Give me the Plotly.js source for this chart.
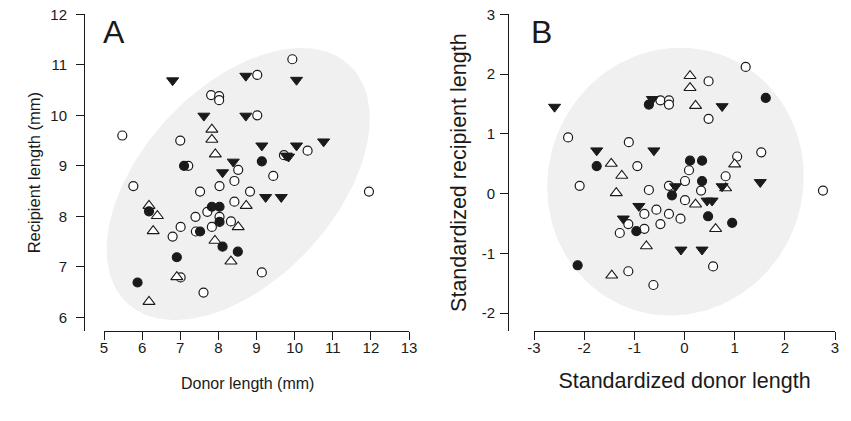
<!DOCTYPE html>
<html><head><meta charset="utf-8">
<script src="https://cdn.plot.ly/plotly-3.0.1.min.js"></script>
<style>html,body{margin:0;padding:0;background:#fff}#chart{width:851px;height:421px}</style>
</head><body><div id="chart"></div>
<script>
// ---------- Panel A: raw lengths (mm) ----------
const aOpenX = [7.81,8.02,8.02,5.48,7.00,9.94,9.02,9.02,10.34,9.72,7.21,8.52,5.77,7.52,8.03,8.42,8.42,7.71,8.03,8.33,7.40,7.83,7.01,7.41,6.80,7.01,7.61,9.44,8.83,11.95,9.14];
const aOpenY = [10.40,10.38,10.30,9.60,9.50,11.11,10.80,10.00,9.30,9.21,9.00,8.92,8.60,8.49,8.60,8.70,8.29,8.09,7.99,7.90,7.99,7.79,7.79,7.70,7.60,6.79,6.49,8.80,8.49,8.49,6.89];
const aFillX = [7.10,9.14,7.83,8.03,8.03,7.52,6.18,8.11,8.51,6.91,5.88];
const aFillY = [9.00,9.09,8.19,8.19,7.89,7.70,8.10,7.40,7.30,7.19,6.69];
const aDownX = [6.80,7.62,8.39,8.11,8.72,10.05,8.72,9.14,10.05,10.76,9.84,9.78,9.24,9.65];
const aDownY = [10.69,9.99,9.08,8.87,10.78,10.70,9.99,9.40,9.40,9.48,9.18,9.20,8.38,8.38];
const aUpX = [7.83,7.83,7.92,6.18,6.40,6.29,7.91,8.33,6.91,6.18,8.73,8.52];
const aUpY = [9.72,9.52,9.23,8.21,8.01,7.71,7.52,7.11,6.80,6.31,8.21,7.79];

// ---------- Panel B: standardized ----------
const bOpenX = [-2.32,-1.11,-0.94,-0.48,-0.31,-0.31,0.48,0.48,1.22,1.05,1.53,0.09,0.82,0.01,-0.31,0.33,2.76,0.01,-0.56,-0.31,-0.48,-0.08,0.57,-0.62,-2.09,-0.71,-0.80,-1.12,-1.29,-0.80,-1.12];
const bOpenY = [0.94,0.86,0.46,1.56,1.56,1.49,1.88,1.25,2.12,0.62,0.69,0.39,0.29,0.21,0.13,0.05,0.05,-0.11,-0.27,-0.34,-0.51,-0.42,-1.22,-1.53,0.13,0.06,-0.34,-0.51,-0.66,-0.59,-1.30];
const bFillX = [-1.75,-0.71,1.62,0.11,0.35,0.35,-0.25,0.47,0.95,-2.13,-0.96];
const bFillY = [0.46,1.49,1.60,0.55,0.55,0.21,-0.03,-0.38,-0.49,-1.20,-0.63];
const bDownX = [-2.59,-1.75,-0.61,-0.64,0.75,-0.18,0.75,1.51,0.45,0.55,-0.07,0.35,-0.91,-1.22];
const bDownY = [1.45,0.72,0.72,1.58,1.46,0.12,0.12,0.19,-0.12,-0.12,-0.94,-0.94,-0.21,-0.42];
const bUpX = [-1.46,0.11,0.11,0.22,1.00,0.82,0.22,0.62,-1.25,-1.36,-0.76,-1.45];
const bUpY = [0.50,1.97,1.77,1.47,0.49,0.09,-0.18,-0.59,0.30,0.01,-0.88,-1.37];

// tick labels
const aXTicks = [5,6,7,8,9,10,11,12,13];
const aYTicks = [6,7,8,9,10,11,12];
const bXTicks = [-3,-2,-1,0,1,2,3];
const bXText = ['-3','-2','-1','0','1','2','3'];
const bYTicks = [-2,-1,0,1,2,3];
const bYText = ['-2','-1','0','1','2','3'];

// shaded ellipses (centre + conjugate half-axis vectors, data units)
const ellA = {cx:8.52, cy:8.64, ux:2.914, uy:2.358, vx:-1.848, vy:1.301};
const ellB = {cx:-0.18, cy:0.20, ux:0.922, uy:2.12, vx:-2.385, vy:0.726};

function ellipsePts(e, n){
  const xs=[], ys=[];
  for(let i=0;i<=n;i++){
    const t=2*Math.PI*i/n;
    xs.push(e.cx+e.ux*Math.cos(t)+e.vx*Math.sin(t));
    ys.push(e.cy+e.uy*Math.cos(t)+e.vy*Math.sin(t));
  }
  return {xs, ys};
}

const FONT = 'Liberation Sans, Arial, Helvetica, sans-serif';
const INK = '#1a1a1a';

function ellTrace(e, xa, ya){
  const p = ellipsePts(e, 180);
  return {x:p.xs, y:p.ys, xaxis:xa, yaxis:ya, mode:'lines', fill:'toself',
    fillcolor:'#f0f0f0', line:{width:0, color:'#f0f0f0'}, hoverinfo:'skip', showlegend:false};
}
function pts(x, y, xa, ya, kind){
  const m = {
    open: {symbol:'circle', size:9, color:'#ffffff', line:{color:INK, width:1.2}},
    fill: {symbol:'circle', size:9, color:INK, line:{color:INK, width:1.2}},
    down: {symbol:'triangle-down', size:10.5, color:INK, line:{color:INK, width:1}},
    up:   {symbol:'triangle-up', size:10.5, color:'#ffffff', line:{color:INK, width:1.1}}
  }[kind];
  return {x, y, xaxis:xa, yaxis:ya, mode:'markers', type:'scatter', marker:m,
    cliponaxis:false, showlegend:false, hoverinfo:'x+y'};
}

const data = [
  ellTrace(ellA,'x','y'),
  pts(aOpenX,aOpenY,'x','y','open'),
  pts(aUpX,aUpY,'x','y','up'),
  pts(aFillX,aFillY,'x','y','fill'),
  pts(aDownX,aDownY,'x','y','down'),
  ellTrace(ellB,'x2','y2'),
  pts(bOpenX,bOpenY,'x2','y2','open'),
  pts(bUpX,bUpY,'x2','y2','up'),
  pts(bFillX,bFillY,'x2','y2','fill'),
  pts(bDownX,bDownY,'x2','y2','down')
];

const W=851, H=421;
const axBase = {showgrid:false, zeroline:false, showline:true, linecolor:INK, linewidth:1,
  ticks:'outside', ticklen:8, tickwidth:1, tickcolor:INK, tickmode:'array',
  tickfont:{family:FONT, size:15, color:INK}, fixedrange:true};
const bottomPx = 331, topPx = 14.3;
const yDom = [(H-bottomPx)/H, (H-topPx)/H];

const layout = {
  width:W, height:H, margin:{l:0,r:0,t:0,b:0},
  paper_bgcolor:'#fff', plot_bgcolor:'rgba(0,0,0,0)',
  font:{family:FONT, color:INK},
  xaxis: Object.assign({}, axBase, {domain:[104/W, 409/W], range:[5,13], anchor:'free', position:yDom[0],
    tickvals:aXTicks, ticklabelstandoff:-5}),
  yaxis: Object.assign({}, axBase, {domain:yDom, range:[5.73,12], anchor:'free', position:84/W,
    tickvals:aYTicks, ticklabelstandoff:6,
    title:{text:'Recipient length (mm)', font:{family:FONT, size:16.5, color:INK}, standoff:4}}),
  xaxis2: Object.assign({}, axBase, {domain:[534/W, 835/W], range:[-3,3], anchor:'free', position:yDom[0],
    tickvals:bXTicks, ticktext:bXText, ticklabelstandoff:-5,
    title:{text:'Standardized donor length', font:{family:FONT, size:21.5, color:INK}, standoff:17}}),
  yaxis2: Object.assign({}, axBase, {domain:yDom, range:[-2.3,3], anchor:'free', position:508/W,
    tickvals:bYTicks, ticktext:bYText, ticklabelstandoff:2,
    title:{text:'Standardized recipient length', font:{family:FONT, size:21.5, color:INK}, standoff:8}}),
  annotations:[
    {text:'Donor length (mm)', xref:'paper', yref:'paper', x:247/W, y:(H-383)/H, xanchor:'center', yanchor:'middle', showarrow:false, font:{family:FONT, size:16, color:INK}},
    {text:'A', xref:'paper', yref:'paper', x:113.5/W, y:(H-31.5)/H, xanchor:'center', yanchor:'middle', showarrow:false, font:{family:FONT, size:32, color:INK}},
    {text:'B', xref:'paper', yref:'paper', x:541/W, y:(H-31.7)/H, xanchor:'center', yanchor:'middle', showarrow:false, font:{family:FONT, size:32, color:INK}}
  ]
};

Plotly.newPlot('chart', data, layout, {displayModeBar:false, staticPlot:true});
</script></body></html>
